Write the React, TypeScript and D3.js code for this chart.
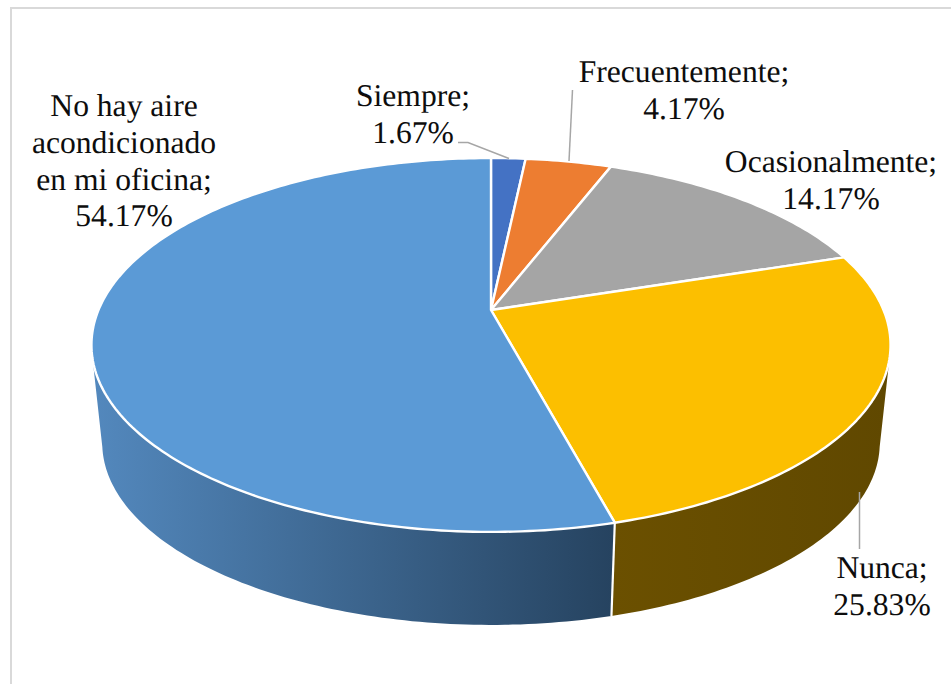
import React from "react";
import * as d3 from "d3";

const categories = ["Siempre", "Frecuentemente", "Ocasionalmente", "Nunca", "No hay aire acondicionado en mi oficina"];
const values = [1.67, 4.17, 14.17, 25.83, 54.17];
const valueLabels = ["1.67%", "4.17%", "14.17%", "25.83%", "54.17%"];
const topColors = ["#4472c4", "#ed7d31", "#a5a5a5", "#fcbf00", "#5b9ad6"];
const labelLines = [
  ["Siempre;", "1.67%"],
  ["Frecuentemente;", "4.17%"],
  ["Ocasionalmente;", "14.17%"],
  ["Nunca;", "25.83%"],
  ["No hay aire", "acondicionado", "en mi oficina;", "54.17%"],
];
const labelAnchors: [number, number][] = [[413, 106], [684, 82], [831, 172], [882, 578], [124, 116]];
const leaders: [number, number][][] = [
  [[458, 142.5], [468, 142.5], [509, 158.5]],
  [[572.5, 90], [569, 161]],
  [],
  [[859.5, 492], [859.5, 549]],
  [],
];

const W = 951, H = 684;
const CX = 491, TOP_Y = 310, BOTTOM_Y = 409;
const K = 0.187, S_TOP = 180.4, R_TOP = 392.5, SCALE_BOTTOM = 0.973;

const angle = d3.scaleLinear().domain([0, 100]).range([0, 2 * Math.PI]);

function project(theta: number, y0: number, scale: number): [number, number] {
  const u = Math.sin(theta), v = -Math.cos(theta);
  const d = 1 - K * v;
  return [CX + (R_TOP * scale * u) / d, y0 + (S_TOP * scale * v) / d];
}
const arcPts = (a: number, b: number, y0: number, scale: number) => {
  const n = Math.max(4, Math.ceil(Math.abs(b - a) * 60));
  return d3.range(n + 1).map((i) => project(a + ((b - a) * i) / n, y0, scale));
};
const line = d3.line<[number, number]>().x((d) => d[0]).y((d) => d[1]);
const deg = (d: number) => (d * Math.PI) / 180;

const cum = d3.cumsum(values);
const slices = values.map((_, i) => ({ a: angle(i ? cum[i - 1] : 0), b: angle(i === values.length - 1 ? 100 : cum[i]) }));

export default function App() {
  const nunca = slices[3], noHay = slices[4];
  const sideGold = [...arcPts(deg(105), nunca.b, TOP_Y, 1), ...arcPts(nunca.b, deg(102), BOTTOM_Y, SCALE_BOTTOM)];
  const sideBlue = [...arcPts(noHay.a, deg(255), TOP_Y, 1), ...arcPts(deg(258), noHay.a, BOTTOM_Y, SCALE_BOTTOM)];
  const apex: [number, number] = [CX, TOP_Y];
  return (
    <svg width={W} height={H} viewBox={`0 0 ${W} ${H}`} style={{ position: "fixed", left: 0, top: 0, background: "#fff" }}>
      <defs>
        <linearGradient id="blueSide" gradientUnits="userSpaceOnUse" x1={94} x2={612} y1={0} y2={0}>
          <stop offset="0" stopColor="#5388bd" />
          <stop offset="1" stopColor="#264360" />
        </linearGradient>
        <linearGradient id="goldSide" gradientUnits="userSpaceOnUse" x1={612} x2={888} y1={0} y2={0}>
          <stop offset="0" stopColor="#6b5000" />
          <stop offset="1" stopColor="#604800" />
        </linearGradient>
      </defs>
      <rect x={11} y={8} width={W + 20} height={H + 20} fill="#fff" stroke="#d9d9d9" strokeWidth={2} />
      <path d={line(sideGold)! + "Z"} fill="url(#goldSide)" />
      <path d={line(sideBlue)! + "Z"} fill="url(#blueSide)" />
      <path d={line([project(nunca.b, TOP_Y, 1), project(nunca.b, BOTTOM_Y, SCALE_BOTTOM)])!} stroke="#fff" strokeWidth={2.2} fill="none" />
      {slices.map((s, i) => (
        <path
          key={categories[i]}
          d={line([apex, ...arcPts(s.a, s.b, TOP_Y, 1)])! + "Z"}
          fill={topColors[i]}
          stroke="#fff"
          strokeWidth={2.4}
          strokeLinejoin="round"
        />
      ))}
      {leaders.map((pts, i) =>
        pts.length ? <path key={i} d={line(pts)!} fill="none" stroke="#a6a6a6" strokeWidth={1.5} /> : null
      )}
      {labelLines.map((lines, i) => (
        <text key={valueLabels[i]} x={labelAnchors[i][0]} y={labelAnchors[i][1]} textAnchor="middle" fontFamily="'Liberation Serif', 'Times New Roman', serif" fontSize={31.6} fill="#0d0d0d" textRendering="geometricPrecision">
          {lines.map((t, j) => (
            <tspan key={j} x={labelAnchors[i][0]} y={labelAnchors[i][1] + j * 36.8}>{t}</tspan>
          ))}
        </text>
      ))}
    </svg>
  );
}
